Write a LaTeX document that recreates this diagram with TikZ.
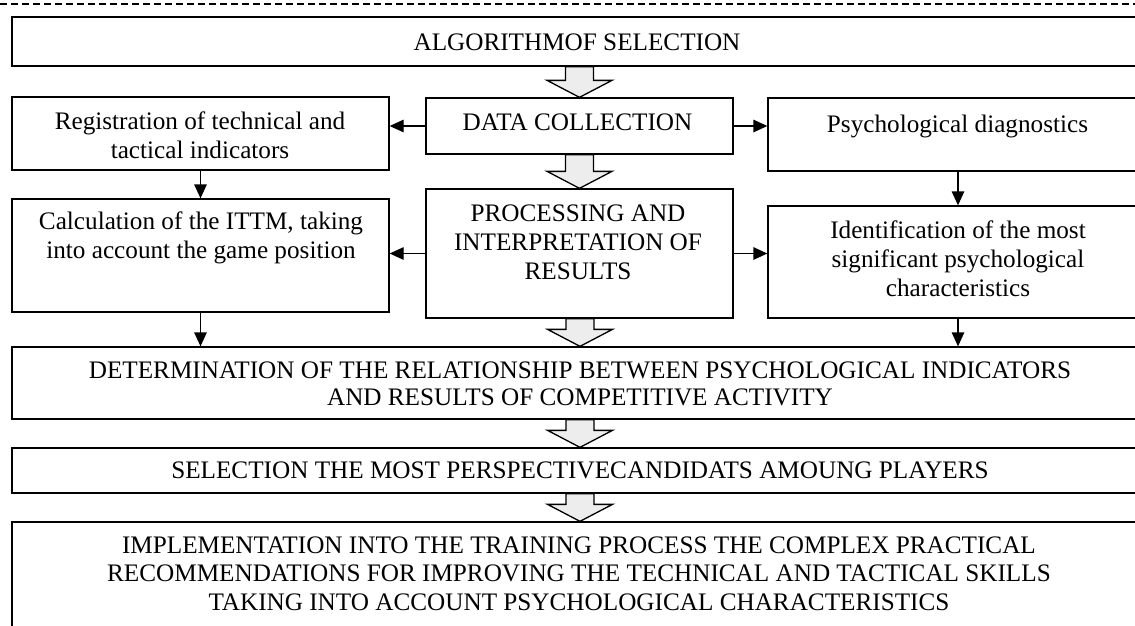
\documentclass[tikz,border=0pt]{standalone}
\usepackage{fontspec}
\setmainfont{Liberation Serif}
\usetikzlibrary{calc,arrows.meta}
\tikzset{
  box/.style={draw, line width=1.3pt, inner sep=0pt, rectangle},
  txt/.style={inner sep=0pt, align=center, font=\fontsize{25.2pt}{29pt}\selectfont},
  hollow/.style={draw, line width=1.3pt, fill=black!7, line join=miter},
  arr/.style={line width=1.3pt, -{Triangle[length=14pt,width=12.5pt]}},
  dashline/.style={line width=1.2pt, dash pattern=on 7pt off 4pt},
}
\newcommand{\hollowarrow}[2]{%
  \draw[hollow] let \p1=(#1.south), \p2=(#2.north) in
    (\x2-14pt,\y1) -- (\x2-14pt,\y2+17pt) -- (\x2-32.5pt,\y2+17pt) -- (\x2,\y2)
    -- (\x2+32.5pt,\y2+17pt) -- (\x2+14pt,\y2+17pt) -- (\x2+14pt,\y1) -- cycle;}
\begin{document}
\begin{tikzpicture}[x=1pt,y=-1pt]
\path[use as bounding box] (0,0) rectangle (1135,625);
\clip (0,0) rectangle (1135,625);
\fill[white] (0,0) rectangle (1135,625);
% dashed top line
\coordinate (dl) at (0,4);
\coordinate (dr) at (1135,4);
\draw[dashline] (dl) -- (dr);
% boxes
\node[box, minimum width=1136pt, minimum height=49pt] (top) at (580,41.5) {};
\node[box, minimum width=377pt, minimum height=73pt] (reg) at (200.5,133.5) {};
\node[box, minimum width=307pt, minimum height=56pt] (dc) at (579.5,126) {};
\node[box, minimum width=380pt, minimum height=73pt] (psy) at (958,134.5) {};
\node[box, minimum width=377pt, minimum height=113pt] (calc) at (200.5,255.5) {};
\node[box, minimum width=307pt, minimum height=129pt] (proc) at (579.5,253.5) {};
\node[box, minimum width=380pt, minimum height=112pt] (ident) at (958,262) {};
\node[box, minimum width=1136pt, minimum height=72pt] (det) at (580,383) {};
\node[box, minimum width=1136pt, minimum height=45pt] (sel) at (580,470.5) {};
\node[box, minimum width=1136pt, minimum height=118pt] (impl) at (580,581) {};
% hollow block arrows
\hollowarrow{top}{dc}
\hollowarrow{dc}{proc}
\hollowarrow{proc}{det}
\hollowarrow{det}{sel}
\hollowarrow{sel}{impl}
% thin arrows
\draw[arr] (dc.west) -- (dc.west -| reg.east);
\draw[arr] (dc.east) -- (dc.east -| psy.west);
\draw[arr] (proc.west) -- (proc.west -| calc.east);
\draw[arr] (proc.east) -- (proc.east -| ident.west);
\draw[arr] (reg.south) -- (calc.north);
\draw[arr] (psy.south) -- (ident.north);
\draw[arr] (calc.south) -- (calc.south |- det.north);
\draw[arr] (ident.south) -- (ident.south |- det.north);
% texts
\node[txt] (t1) at (577,42) {ALGORITHMOF SELECTION};
\node[txt] (t2) at (577.5,122.5) {DATA COLLECTION};
\node[txt] (t3) at (200,135) {Registration of technical and\\tactical indicators};
\node[txt] (t4) at (957.5,126.5) {Psychological diagnostics};
\node[txt] (t5) at (201,238) {Calculation of the ITTM, taking\\into account the game position};
\node[txt] (t6) at (578,242.5) {PROCESSING AND\\INTERPRETATION OF\\RESULTS};
\node[txt] (t7) at (958,259) {Identification of the most\\significant psychological\\characteristics};
\node[txt, font=\fontsize{25.2pt}{26.7pt}\selectfont] (t8) at (580,384) {DETERMINATION OF THE RELATIONSHIP BETWEEN PSYCHOLOGICAL INDICATORS\\AND RESULTS OF COMPETITIVE ACTIVITY};
\node[txt] (t9) at (580,470) {SELECTION THE MOST PERSPECTIVECANDIDATS AMOUNG PLAYERS};
\node[txt, font=\fontsize{25.2pt}{28.3pt}\selectfont] (t10) at (579,573.7) {IMPLEMENTATION INTO THE TRAINING PROCESS THE COMPLEX PRACTICAL\\RECOMMENDATIONS FOR IMPROVING THE TECHNICAL AND TACTICAL SKILLS\\TAKING INTO ACCOUNT PSYCHOLOGICAL CHARACTERISTICS};
\end{tikzpicture}
\end{document}
